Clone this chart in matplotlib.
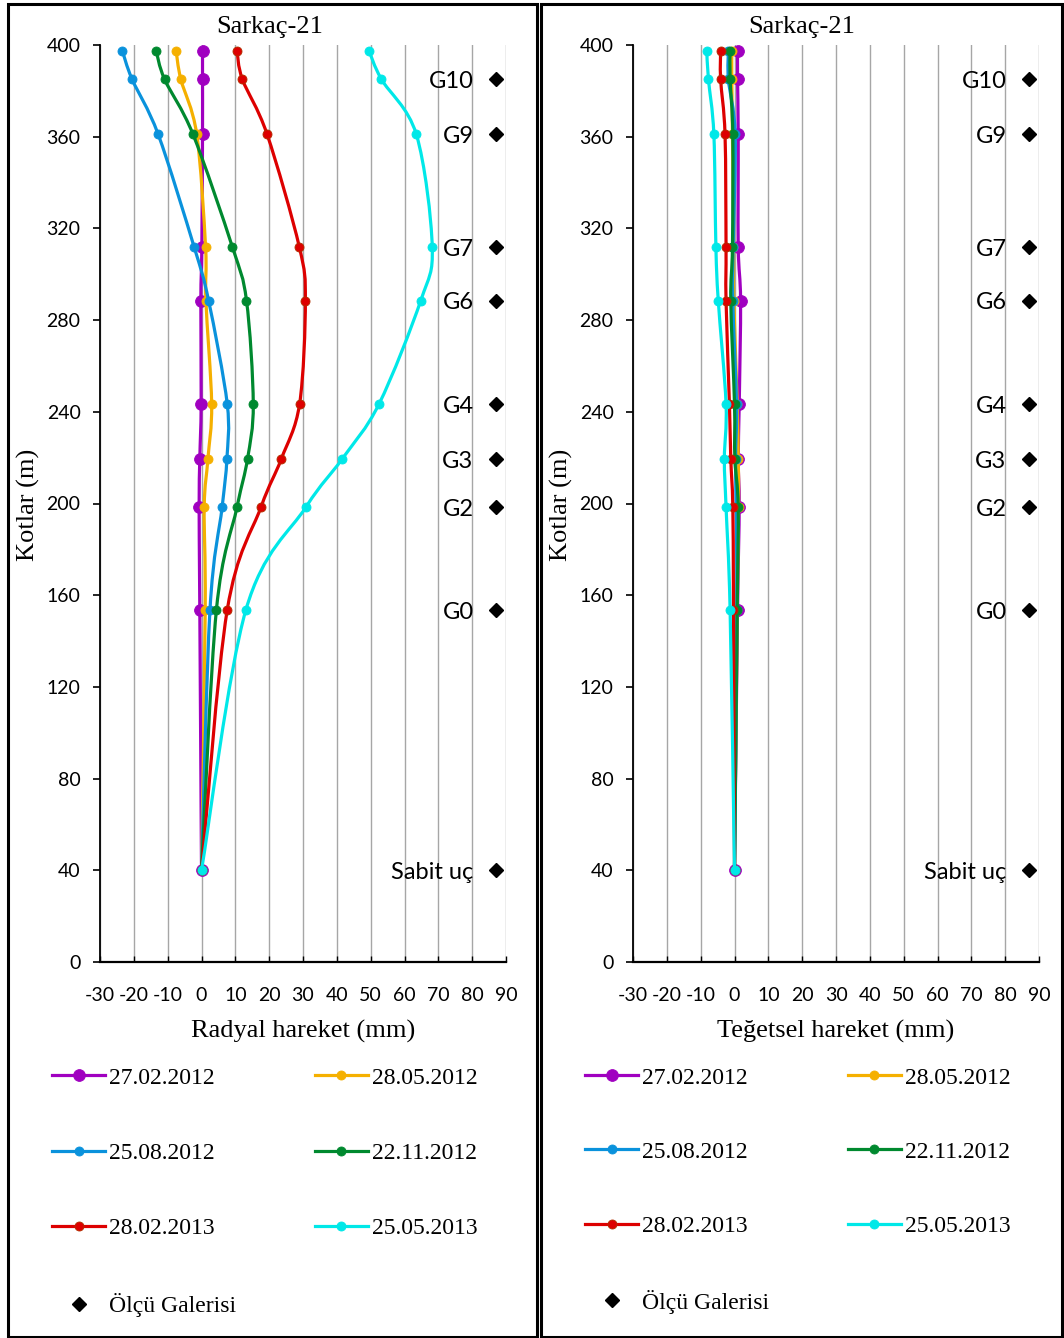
import numpy as np
import matplotlib
matplotlib.use("Agg")
import matplotlib.pyplot as plt
from matplotlib.path import Path
from matplotlib.patches import PathPatch, Rectangle
from matplotlib.lines import Line2D

plt.rcParams['axes.unicode_minus'] = False

# ---------------- data ----------------
kot = [397.5, 385, 361, 312, 288.5, 243.5, 219.5, 198.5, 153.5, 40]
dates = ["27.02.2012", "28.05.2012", "25.08.2012", "22.11.2012", "28.02.2013", "25.05.2013"]
colors = ["#A000C0", "#F5B000", "#0A92DC", "#00892F", "#DD0000", "#00E8E8"]

radyal_27_02_2012 = [0.3, 0.3, 0.3, 0.1, -0.2, -0.1, -0.5, -0.7, -0.5, 0]
radyal_28_05_2012 = [-7.5, -6.1, -1.4, 1.2, 1.3, 3.0, 1.9, 0.8, 1.1, 0]
radyal_25_08_2012 = [-23.4, -20.5, -12.8, -2.2, 2.1, 7.6, 7.5, 6.1, 2.5, 0]
radyal_22_11_2012 = [-13.4, -10.9, -2.5, 9.1, 13.3, 15.3, 13.6, 10.5, 4.4, 0]
radyal_28_02_2013 = [10.5, 12.1, 19.4, 28.9, 30.7, 29.0, 23.6, 17.6, 7.6, 0]
radyal_25_05_2013 = [49.5, 53.2, 63.5, 68.2, 64.8, 52.5, 41.6, 30.9, 13.1, 0]

teget_27_02_2012 = [0.9, 0.9, 1.1, 1.1, 1.8, 1.4, 1.1, 1.4, 0.9, 0]
teget_28_05_2012 = [-0.8, -0.8, -0.6, -0.3, -0.2, 0.8, 1.1, 1.2, 0.8, 0]
teget_25_08_2012 = [-1.8, -1.8, 0.2, -0.4, -0.5, 0.6, 0.3, 0.5, 0.7, 0]
teget_22_11_2012 = [-1.3, -1.3, -0.5, -0.6, -1.1, 0.0, 0.1, 1.1, 0.8, 0]
teget_28_02_2013 = [-4.1, -4.1, -2.8, -2.5, -2.5, -1.5, -1.1, -0.5, -0.3, 0]
teget_25_05_2013 = [-8.2, -7.7, -6.1, -5.5, -4.8, -2.5, -3.0, -2.5, -1.3, 0]

galeri_kot = [385, 361, 312, 288.5, 243.5, 219.5, 198.5, 153.5, 40]
galeri_adlari = ["G10", "G9", "G7", "G6", "G4", "G3", "G2", "G0", "Sabit uç"]
galeri_x = 87

radyal = [radyal_27_02_2012, radyal_28_05_2012, radyal_25_08_2012,
          radyal_22_11_2012, radyal_28_02_2013, radyal_25_05_2013]
teget = [teget_27_02_2012, teget_28_05_2012, teget_25_08_2012,
         teget_22_11_2012, teget_28_02_2013, teget_25_05_2013]

xticks = list(range(-30, 91, 10))
yticks = list(range(0, 401, 40))

SERIF = "Liberation Serif"
SANS = "Lato"

W, H = 1064, 1338
fig = plt.figure(figsize=(W / 100, H / 100), dpi=100)


def smooth_path(x, y):
    pts = np.column_stack([x, y]).astype(float)
    n = len(pts)
    verts = [pts[0]]
    codes = [Path.MOVETO]
    for i in range(n - 1):
        p0 = pts[i - 1] if i > 0 else pts[i]
        p1 = pts[i]
        p2 = pts[i + 1]
        p3 = pts[i + 2] if i + 2 < n else pts[i + 1]
        c1 = p1 + (p2 - p0) / 6.0
        c2 = p2 - (p3 - p1) / 6.0
        verts += [c1, c2, p2]
        codes += [Path.CURVE4] * 3
    return Path(verts, codes)


def panel(left_px, series, xlabel, cx_px, leg_top, leg_sp):
    ax = fig.add_axes([left_px / W, 1 - 962 / H, 406 / W, 917 / H])
    ax.set_xlim(-30, 90)
    ax.set_ylim(0, 400)
    ax.set_xticks(xticks)
    ax.set_yticks(yticks)
    ax.xaxis.grid(True, color="#A6A6A6", lw=1.0)
    ax.yaxis.grid(False)
    ax.set_axisbelow(True)
    for s in ["top", "right"]:
        ax.spines[s].set_visible(False)
    ax.spines["left"].set_linewidth(1.3)
    ax.spines["bottom"].set_linewidth(1.6)
    ax.tick_params(axis="y", direction="out", length=5, width=1.2, pad=9,
                   labelsize=14)
    ax.tick_params(axis="x", direction="in", length=4, width=1.0, pad=18,
                   labelsize=14)
    for lab in ax.get_xticklabels() + ax.get_yticklabels():
        lab.set_fontfamily(SANS)
    handles = []
    for i, (vals, c, d) in enumerate(zip(series, colors, dates)):
        ms = 8.5 if i == 0 else 6.5
        z = 3 + i
        ax.add_patch(PathPatch(smooth_path(vals, kot), fill=False, edgecolor=c,
                               lw=2.3, zorder=z))
        mec = "#B03000" if i == 4 else c
        ax.plot(vals, kot, linestyle="none", marker="o", ms=ms, color=c,
                mec=mec, mew=0.6, zorder=z)
        handles.append(Line2D([], [], color=c, lw=2.3, marker="o", ms=ms,
                              mec=mec, mew=0.6))
    ax.plot([galeri_x] * len(galeri_kot), galeri_kot, linestyle="none",
            marker="D", ms=7, color="black", zorder=10)
    for k, name in zip(galeri_kot, galeri_adlari):
        ax.text(galeri_x - 6.6, k - 1, name, ha="right", va="center",
                fontsize=17, family=SANS, zorder=11)
    gh = Line2D([], [], linestyle="none", marker="D", ms=7, color="black")
    # legend column-major order to get row layout of reference
    order_h = [handles[0], handles[2], handles[4], gh, handles[1], handles[3], handles[5]]
    order_l = [dates[0], dates[2], dates[4], "Ölçü Galerisi", dates[1], dates[3], dates[5]]
    fig.legend(order_h, order_l, loc="upper left",
               bbox_to_anchor=((left_px - 48) / W, 1 - leg_top / H),
               ncol=2, frameon=False, borderpad=0, borderaxespad=0,
               handlelength=2.25, handletextpad=0.15, labelspacing=leg_sp,
               columnspacing=3.35, prop={"family": SERIF, "size": 17})
    fig.text(cx_px / W, 1 - 1031 / H, xlabel, ha="center", va="center",
             family=SERIF, fontsize=19)
    fig.text((left_px - 72) / W, 1 - 505 / H, "Kotlar (m)", ha="center",
             va="center", rotation=90, family=SERIF, fontsize=19)
    return ax


panel(100, radyal, "Radyal hareket (mm)", 303, 1067, 2.28)
panel(633, teget, "Teğetsel hareket (mm)", 836, 1067, 2.23)

fig.text(270 / W, 1 - 27 / H, "Sarkaç-21", ha="center", va="center",
         family=SERIF, fontsize=19)
fig.text(802 / W, 1 - 27 / H, "Sarkaç-21", ha="center", va="center",
         family=SERIF, fontsize=19)

# panel frames
fig.patches.append(Rectangle((8 / W, 1 / H), 529 / W, 1333 / H, transform=fig.transFigure,
                             fill=False, edgecolor="black", lw=2.2))
fig.patches.append(Rectangle((541 / W, 1 / H), 521 / W, 1333 / H, transform=fig.transFigure,
                             fill=False, edgecolor="black", lw=2.2))

fig.savefig("out.png", dpi=100)
